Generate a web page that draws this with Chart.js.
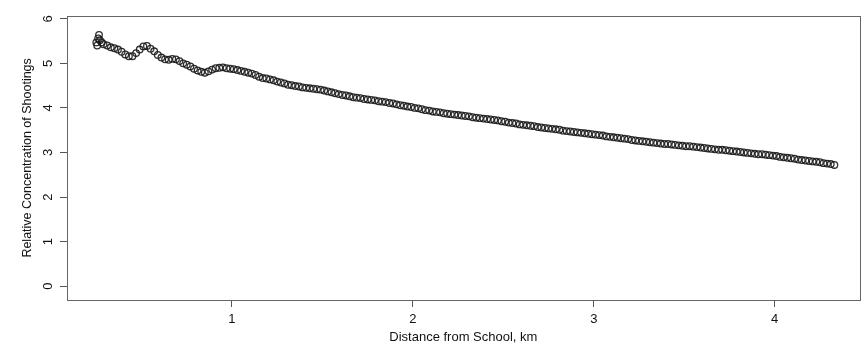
<!DOCTYPE html>
<html><head><meta charset="utf-8">
<script src="https://cdn.jsdelivr.net/npm/chart.js@4/dist/chart.umd.min.js"></script>
<style>html,body{margin:0;padding:0;background:#fff;overflow:hidden}</style>
</head><body>
<canvas id="c" width="865" height="345"></canvas>
<script>
const distanceKm = [
0.255,0.26,0.265,0.28,
0.25,0.27,0.29,0.31,0.33,0.35,0.37,0.39,0.41,0.43,0.45,0.47,0.49,0.51,0.53,0.55,0.57,0.59,
0.61,0.63,0.65,0.67,0.69,0.71,0.73,0.75,0.77,0.79,0.81,0.83,0.85,0.87,0.89,0.91,0.93,0.95,0.97,0.99,
1.01,1.03,1.05,1.07,1.09,1.11,1.13,1.15,1.17,1.19,1.21,1.23,1.25,1.27,1.29,1.31,1.33,1.35,1.37,1.39,
1.41,1.43,1.45,1.47,1.49,1.51,1.53,1.55,1.57,1.59,1.61,1.63,1.65,1.67,1.69,1.71,1.73,1.75,1.77,1.79,
1.81,1.83,1.85,1.87,1.89,1.91,1.93,1.95,1.97,1.99,2.01,2.03,2.05,2.07,2.09,2.11,2.13,2.15,2.17,2.19,
2.21,2.23,2.25,2.27,2.29,2.31,2.33,2.35,2.37,2.39,2.41,2.43,2.45,2.47,2.49,2.51,2.53,2.55,2.57,2.59,
2.61,2.63,2.65,2.67,2.69,2.71,2.73,2.75,2.77,2.79,2.81,2.83,2.85,2.87,2.89,2.91,2.93,2.95,2.97,2.99,
3.01,3.03,3.05,3.07,3.09,3.11,3.13,3.15,3.17,3.19,3.21,3.23,3.25,3.27,3.29,3.31,3.33,3.35,3.37,3.39,
3.41,3.43,3.45,3.47,3.49,3.51,3.53,3.55,3.57,3.59,3.61,3.63,3.65,3.67,3.69,3.71,3.73,3.75,3.77,3.79,
3.81,3.83,3.85,3.87,3.89,3.91,3.93,3.95,3.97,3.99,4.01,4.03,4.05,4.07,4.09,4.11,4.13,4.15,4.17,4.19,
4.21,4.23,4.25,4.27,4.29,4.31,4.33
];
const concentration = [
5.40,5.56,5.64,5.47,
5.47,5.52,5.43,5.40,5.36,5.34,5.31,5.26,5.20,5.16,5.16,5.23,5.31,5.38,5.39,5.33,5.27,5.19,
5.13,5.09,5.08,5.10,5.09,5.05,5.00,4.97,4.93,4.88,4.84,4.81,4.79,4.82,4.86,4.89,4.90,4.91,4.89,4.88,
4.87,4.85,4.83,4.81,4.79,4.77,4.74,4.70,4.67,4.66,4.64,4.62,4.59,4.57,4.55,4.52,4.51,4.49,4.48,4.46,
4.45,4.44,4.43,4.42,4.41,4.39,4.37,4.35,4.33,4.31,4.29,4.28,4.26,4.24,4.23,4.22,4.20,4.19,4.18,4.17,
4.15,4.14,4.13,4.11,4.10,4.08,4.06,4.05,4.03,4.02,4.00,3.99,3.97,3.95,3.94,3.92,3.91,3.90,3.88,3.87,
3.86,3.85,3.84,3.83,3.82,3.81,3.79,3.78,3.77,3.76,3.75,3.74,3.73,3.72,3.70,3.69,3.67,3.66,3.65,3.63,
3.62,3.61,3.60,3.59,3.57,3.56,3.55,3.54,3.53,3.52,3.51,3.49,3.48,3.47,3.46,3.45,3.44,3.43,3.42,3.41,
3.40,3.39,3.38,3.36,3.35,3.34,3.33,3.32,3.31,3.30,3.28,3.27,3.26,3.25,3.24,3.23,3.22,3.21,3.20,3.19,
3.19,3.18,3.17,3.16,3.15,3.14,3.14,3.13,3.12,3.11,3.10,3.09,3.08,3.07,3.06,3.06,3.05,3.04,3.03,3.02,
3.01,3.00,2.99,2.98,2.97,2.96,2.96,2.95,2.94,2.93,2.92,2.90,2.89,2.88,2.87,2.86,2.84,2.83,2.82,2.81,
2.80,2.79,2.78,2.76,2.75,2.74,2.72
];
const xTickValues = [1, 2, 3, 4];
const yTickValues = [0, 1, 2, 3, 4, 5, 6];
const xTitle = 'Distance from School, km';
const yTitle = 'Relative Concentration of Shootings';

const points = distanceKm.map((x, i) => ({ x: x, y: concentration[i] }));
const FONT = 'Liberation Sans, Arial, Helvetica, sans-serif';

const boxPlugin = {
  id: 'box',
  afterDraw(chart) {
    const { ctx, chartArea: a } = chart;
    ctx.save();
    ctx.strokeStyle = '#666';
    ctx.lineWidth = 1;
    const l = Math.round(a.left) + 0.5, t = Math.round(a.top) + 0.5;
    const r = Math.round(a.right) + 0.5, b = Math.round(a.bottom) + 0.5;
    ctx.strokeRect(l, t, r - l, b - t);
    ctx.restore();
  }
};

new Chart(document.getElementById('c'), {
  type: 'scatter',
  data: {
    datasets: [{
      data: points,
      pointStyle: 'circle',
      pointRadius: 3.3,
      pointBorderWidth: 1.3,
      borderColor: 'rgba(25,25,25,0.9)',
      backgroundColor: 'rgba(0,0,0,0)',
      showLine: false
    }]
  },
  options: {
    responsive: false,
    animation: false,
    devicePixelRatio: 1,
    layout: { padding: { top: 13, right: 5, left: 0, bottom: 0 } },
    plugins: { legend: { display: false }, tooltip: { enabled: false } },
    scales: {
      x: {
        type: 'linear',
        min: 0.088,
        max: 4.47,
        afterBuildTicks: s => { s.ticks = xTickValues.map(v => ({ value: v })); },
        afterFit: s => { s.height = 45; },
        grid: { drawOnChartArea: false, drawTicks: true, tickLength: 7, tickColor: '#555' },
        border: { display: false },
        ticks: { color: '#111', font: { family: FONT, size: 13 }, padding: 5, maxRotation: 0, autoSkip: false },
        title: { display: true, text: xTitle, color: '#111', font: { family: FONT, size: 13 }, padding: { top: 0, bottom: 0 } }
      },
      y: {
        type: 'linear',
        min: -0.311,
        max: 6.067,
        afterBuildTicks: s => { s.ticks = yTickValues.map(v => ({ value: v })); },
        afterFit: s => { s.width = 67; },
        grid: { drawOnChartArea: false, drawTicks: true, tickLength: 7, tickColor: '#555' },
        border: { display: false },
        ticks: { color: '#111', font: { family: FONT, size: 13 }, padding: 8, minRotation: 90, maxRotation: 90, crossAlign: 'center', autoSkip: false },
        title: { display: true, text: yTitle, color: '#111', font: { family: FONT, size: 12.5 }, padding: { top: 20, bottom: 0 } }
      }
    }
  },
  plugins: [boxPlugin]
});
</script>
</body></html>
